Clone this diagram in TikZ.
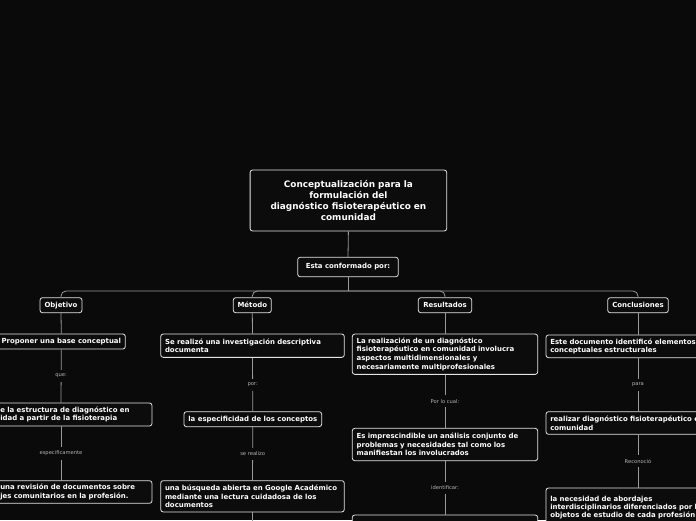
\documentclass[tikz,border=0pt]{standalone}
\usepackage{fontspec}
\setmainfont{DejaVu Sans}
\definecolor{bgc}{HTML}{0A0A0A}
\definecolor{boxfill}{HTML}{0C0C0C}
\definecolor{boxline}{HTML}{E4E4E4}
\definecolor{connc}{HTML}{9A9A9A}
\definecolor{lblc}{HTML}{B4B4B4}
\tikzset{
  boxn/.style={draw=boxline, fill=boxfill, rounded corners=2.5pt, line width=0.8pt,
    text=white, font=\bfseries\fontsize{6.95}{8.7}\selectfont, inner xsep=4.3pt,
    inner ysep=0pt, align=left},
  headn/.style={boxn, align=center},
  conn/.style={draw=connc, line width=0.8pt},
  lbl/.style={fill=bgc, text=lblc, font=\fontsize{5.2}{6}\selectfont, inner xsep=1pt, inner ysep=4pt},
}
\begin{document}
\begin{tikzpicture}[x=1pt,y=-1pt]
\fill[bgc] (0,0) rectangle (696,520);
\useasboundingbox (0,0) rectangle (696,520);

% title and intermediate
\node[headn, text width=188pt, minimum height=61pt, font=\bfseries\fontsize{8.9}{11}\selectfont] (title) at (348.4,200.5)
  {Conceptualización para la\\formulación del\\diagnóstico fisioterapéutico en\\comunidad};
\node[headn, minimum width=100.6pt, minimum height=19.4pt] (esta) at (348,267) {Esta conformado por:};
\coordinate (busc) at (348,291);

% column heads
\node[headn, minimum width=42pt, minimum height=15pt] (obj) at (61,305.2) {Objetivo};
\node[headn, minimum width=38pt, minimum height=15pt] (met) at (252.3,305.2) {Método};
\node[headn, minimum width=53.4pt, minimum height=15pt] (res) at (445,305.2) {Resultados};
\node[headn, minimum width=60.6pt, minimum height=15pt] (con) at (638,305.2) {Conclusiones};

% Objetivo column
\node[headn, minimum width=127.3pt, minimum height=15pt] (b1) at (61.3,341.5) {Proponer una base conceptual};
\node[boxn, text width=173.4pt, minimum height=23pt] (b2) at (61,414.5)
  {\hspace*{26pt}e la estructura de diagnóstico en\\\hspace*{26pt}idad a partir de la fisioterapia};
\node[boxn, text width=173.4pt, minimum height=22.6pt] (b3) at (61,492)
  {\hspace*{26pt}una revisión de documentos sobre\\\hspace*{26pt}jes comunitarios en la profesión.};

% Método column
\node[boxn, text width=175pt, minimum height=23.3pt] (m1) at (252.5,345.7)
  {Se realizó una investigación descriptiva\\documenta};
\node[headn, minimum width=137.7pt, minimum height=15pt] (m2) at (252.8,419.2) {la especificidad de los conceptos};
\node[boxn, text width=175pt, minimum height=31.3pt] (m3) at (252.5,496.3)
  {una búsqueda abierta en Google Académico\\mediante una lectura cuidadosa de los\\documentos};
\coordinate (mend) at (252.5,530);

% Resultados column
\node[boxn, text width=176.8pt, minimum height=40.3pt] (r1) at (445,354.2)
  {La realización de un diagnóstico\\fisioterapéutico en comunidad involucra\\aspectos multidimensionales y\\necesariamente multiprofesionales};
\node[boxn, text width=176.8pt, minimum height=32.4pt] (r2) at (445,444.5)
  {Es imprescindible un análisis conjunto de\\problemas y necesidades tal como los\\manifiestan los involucrados};
\node[boxn, minimum width=185.4pt, minimum height=30pt] (r3) at (445,530) {};

% Conclusiones column
\node[boxn, text width=175.4pt, minimum height=22.7pt] (c1) at (638,346.3)
  {Este documento identificó elementos\\conceptuales estructurales};
\node[boxn, text width=175.4pt, minimum height=22.6pt] (c2) at (638,423)
  {realizar diagnóstico fisioterapéutico e\\comunidad};
\node[boxn, text width=175.4pt, minimum height=40pt, font=\bfseries\fontsize{6.95}{7.9}\selectfont] (c3) at (638,508)
  {la necesidad de abordajes\\interdisciplinarios diferenciados por l\\objetos de estudio de cada profesión};

% connectors
\draw[conn] (title.south) -- (esta.north);
\draw[conn] (esta.south) -- (busc);
\draw[conn, rounded corners=5pt] (busc) -| (obj.north);
\draw[conn, rounded corners=5pt] (busc) -| (met.north);
\draw[conn, rounded corners=5pt] (busc) -| (res.north);
\draw[conn, rounded corners=5pt] (busc) -| (con.north);

\draw[conn] (obj.south) -- (b1.north);
\draw[conn] (b1.south) -- node[lbl] (l1) {que:} (b2.north);
\draw[conn] (b2.south) -- node[lbl] (l2) {especificamente} (b3.north);

\draw[conn] (met.south) -- (m1.north);
\draw[conn] (m1.south) -- node[lbl] (l3) {por:} (m2.north);
\draw[conn] (m2.south) -- node[lbl] (l4) {se realizo} (m3.north);
\draw[conn] (m3.south) -- (mend);

\draw[conn] (res.south) -- (r1.north);
\draw[conn] (r1.south) -- node[lbl] (l5) {Por lo cual:} (r2.north);
\draw[conn] (r2.south) -- node[lbl] (l6) {identificar:} (r3.north);

\draw[conn] (con.south) -- (c1.north);
\draw[conn] (c1.south) -- node[lbl] (l7) {para} (c2.north);
\draw[conn] (c2.south) -- node[lbl] (l8) {Reconoció} (c3.north);
\end{tikzpicture}
\end{document}
